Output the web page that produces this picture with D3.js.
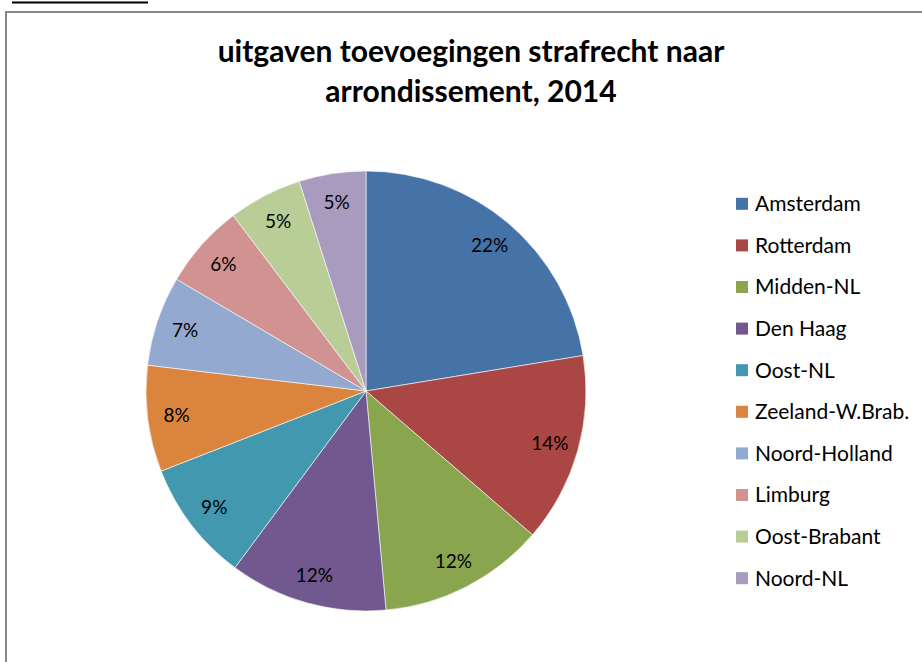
<!DOCTYPE html>
<html>
<head>
<meta charset="utf-8">
<script src="https://cdn.jsdelivr.net/npm/d3@7"></script>
<style>
  body { margin: 0; background: #fff; }
  svg { display: block; }
</style>
</head>
<body>
<div id="chart"></div>
<script>
// arrondissementen, share of spending
var categories = ["Amsterdam", "Rotterdam", "Midden-NL", "Den Haag", "Oost-NL",
  "Zeeland-W.Brab.", "Noord-Holland", "Limburg", "Oost-Brabant", "Noord-NL"];
var values = [22.4, 13.9, 12.2, 11.6, 8.9, 7.8, 6.6, 6.2, 5.4, 4.9];
var colors = ["#4572A7", "#AA4643", "#89A54E", "#71588F", "#4198AF",
  "#DB843D", "#93A9CF", "#D19392", "#B9CD96", "#A99BBD"];
var titleLines = ["uitgaven toevoegingen strafrecht naar", "arrondissement, 2014"];

var outerWidth = 922;
var outerHeight = 662;
var cx = 366, cy = 391, radius = 220;
var labelRadius = 191;
var fontFamily = "Lato, 'Open Sans', sans-serif";

var svg = d3.select("div#chart").append("svg")
  .attr("width", outerWidth)
  .attr("height", outerHeight);

// clipped caption underline above the frame
svg.append("line")
  .attr("x1", 12).attr("x2", 148)
  .attr("y1", 2.5).attr("y2", 2.5)
  .attr("stroke", "#000")
  .attr("stroke-width", 2);

// chart area frame
svg.append("rect")
  .attr("x", 6).attr("y", 12)
  .attr("width", outerWidth).attr("height", outerHeight)
  .attr("fill", "none")
  .attr("stroke", "#888")
  .attr("stroke-width", 2);

// title
svg.append("text")
  .attr("x", 471).attr("y", 62)
  .attr("text-anchor", "middle")
  .attr("font-family", fontFamily)
  .attr("font-weight", "bold")
  .attr("font-size", "30px")
  .attr("fill", "#000")
  .selectAll("tspan")
  .data(titleLines)
  .join("tspan")
  .attr("x", 471)
  .attr("dy", function (d, i) { return i === 0 ? 0 : 40; })
  .text(function (d) { return d; });

var total = d3.sum(values);
var pie = d3.pie().sort(null).value(function (d) { return d; });
var arcs = pie(values);
var arc = d3.arc().innerRadius(0).outerRadius(radius);
var labelArc = d3.arc().innerRadius(labelRadius).outerRadius(labelRadius);

var pieGroup = svg.append("g")
  .attr("transform", "translate(" + cx + "," + cy + ")");

pieGroup.selectAll("path.slice")
  .data(arcs)
  .join("path")
  .attr("class", "slice")
  .attr("d", arc)
  .attr("fill", function (d, i) { return colors[i]; })
  .attr("stroke", "#fff")
  .attr("stroke-width", 0.6);

pieGroup.selectAll("text.pct")
  .data(arcs)
  .join("text")
  .attr("class", "pct")
  .attr("transform", function (d) { return "translate(" + labelArc.centroid(d) + ")"; })
  .attr("text-anchor", "middle")
  .attr("dy", "0.35em")
  .attr("font-family", fontFamily)
  .attr("font-size", "19px")
  .attr("fill", "#000")
  .text(function (d) { return Math.round(d.value / total * 100) + "%"; });

// legend
var legendY = d3.scaleBand()
  .domain(categories)
  .range([183, 599]);

var legend = svg.append("g").attr("class", "legend");
var items = legend.selectAll("g")
  .data(categories)
  .join("g")
  .attr("transform", function (d) {
    return "translate(736," + (legendY(d) + legendY.bandwidth() / 2) + ")";
  });

items.append("rect")
  .attr("x", 0).attr("y", -6)
  .attr("width", 12).attr("height", 12)
  .attr("fill", function (d, i) { return colors[i]; });

items.append("text")
  .attr("x", 19).attr("y", 0)
  .attr("dy", "0.35em")
  .attr("font-family", fontFamily)
  .attr("font-size", "21px")
  .attr("fill", "#000")
  .text(function (d) { return d; });
</script>
</body>
</html>
